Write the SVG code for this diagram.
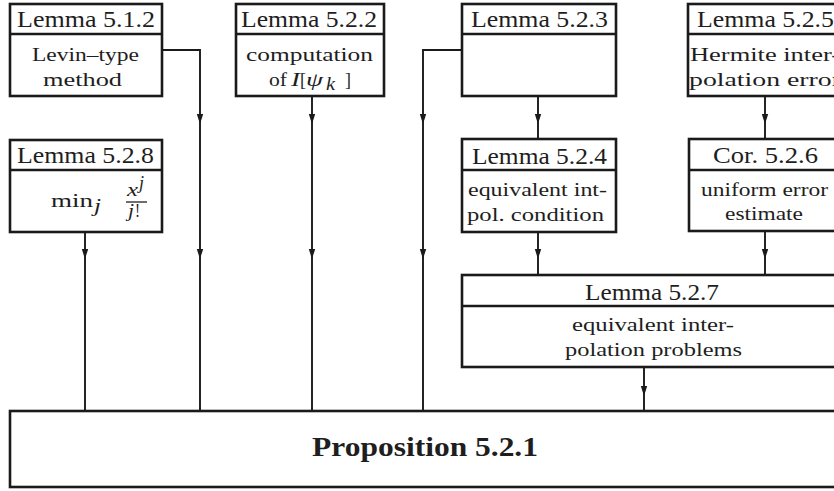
<svg xmlns="http://www.w3.org/2000/svg" xmlns:xlink="http://www.w3.org/1999/xlink" width="834" height="491" viewBox="0 0 834 491">
<style>
.box{fill:#fff;stroke:#1a1a1a;stroke-width:2.6}
.div{stroke:#1a1a1a;stroke-width:2.6}
.con{fill:none;stroke:#1a1a1a;stroke-width:1.9}
.hd{font-family:"Liberation Serif","Times New Roman",serif;font-size:22.5px;fill:#1e1e1e}
.bd{font-family:"Liberation Serif","Times New Roman",serif;font-size:18.5px;fill:#1e1e1e}
.it{font-style:italic}
.pr{font-family:"Liberation Serif","Times New Roman",serif;font-size:27px;font-weight:bold;fill:#1e1e1e}
</style>
<defs>
<path id="ah" d="M-3.2,-10 L3.2,-10 L0,0 Z" fill="#1a1a1a"/>
</defs>
<rect width="834" height="491" fill="#fff"/>

<g id="connectors">
<path class="con" d="M162,50 H200 V411"/>
<path class="con" d="M312,96 V411"/>
<path class="con" d="M462,50 H423 V411"/>
<path class="con" d="M538,96 V139"/>
<path class="con" d="M765,96 V139"/>
<path class="con" d="M85,232 V411"/>
<path class="con" d="M538,232 V275"/>
<path class="con" d="M765,231 V275"/>
<path class="con" d="M644,367 V411"/>
<use xlink:href="#ah" x="200" y="124"/>
<use xlink:href="#ah" x="312" y="124"/>
<use xlink:href="#ah" x="423" y="124"/>
<use xlink:href="#ah" x="538" y="124"/>
<use xlink:href="#ah" x="765" y="124"/>
<use xlink:href="#ah" x="85" y="259"/>
<use xlink:href="#ah" x="200" y="259"/>
<use xlink:href="#ah" x="312" y="259"/>
<use xlink:href="#ah" x="423" y="259"/>
<use xlink:href="#ah" x="538" y="259"/>
<use xlink:href="#ah" x="765" y="259"/>
<use xlink:href="#ah" x="644" y="396"/>
</g>

<g id="lemma512">
<rect class="box" x="10" y="4" width="152" height="92"/>
<line class="div" x1="10" y1="34" x2="162" y2="34"/>
<text class="hd" x="17" y="27" textLength="138" lengthAdjust="spacingAndGlyphs">Lemma 5.1.2</text>
<text class="bd" x="32" y="61" textLength="107" lengthAdjust="spacingAndGlyphs">Levin–type</text>
<text class="bd" x="43" y="86" textLength="79" lengthAdjust="spacingAndGlyphs">method</text>
</g>

<g id="lemma522">
<rect class="box" x="236" y="4" width="148" height="92"/>
<line class="div" x1="236" y1="34" x2="384" y2="34"/>
<text class="hd" x="241" y="27" textLength="136" lengthAdjust="spacingAndGlyphs">Lemma 5.2.2</text>
<text class="bd" x="246" y="61" textLength="127" lengthAdjust="spacingAndGlyphs">computation</text>
<text class="bd" x="269" y="86" textLength="18" lengthAdjust="spacingAndGlyphs">of</text>
<text class="bd it" x="291" y="86" textLength="9" lengthAdjust="spacingAndGlyphs">I</text>
<text class="bd" x="300" y="86" textLength="6" lengthAdjust="spacingAndGlyphs">[</text>
<text class="bd it" x="306" y="86" textLength="17" lengthAdjust="spacingAndGlyphs">ψ</text>
<text class="bd it" x="326" y="90" font-size="14" textLength="9" lengthAdjust="spacingAndGlyphs">k</text>
<text class="bd" x="345" y="86" textLength="6" lengthAdjust="spacingAndGlyphs">]</text>
</g>

<g id="lemma523">
<rect class="box" x="462" y="4" width="154" height="92"/>
<line class="div" x1="462" y1="34" x2="616" y2="34"/>
<text class="hd" x="471" y="27" textLength="137" lengthAdjust="spacingAndGlyphs">Lemma 5.2.3</text>
</g>

<g id="lemma525">
<rect class="box" x="688" y="4" width="154" height="92"/>
<line class="div" x1="688" y1="34" x2="842" y2="34"/>
<text class="hd" x="697" y="27" textLength="137" lengthAdjust="spacingAndGlyphs">Lemma 5.2.5</text>
<text class="bd" x="690" y="61" textLength="150" lengthAdjust="spacingAndGlyphs">Hermite inter-</text>
<text class="bd" x="689" y="86" textLength="152" lengthAdjust="spacingAndGlyphs">polation error</text>
</g>

<g id="lemma528">
<rect class="box" x="10" y="140" width="152" height="92"/>
<line class="div" x1="10" y1="170" x2="162" y2="170"/>
<text class="hd" x="17" y="163" textLength="137" lengthAdjust="spacingAndGlyphs">Lemma 5.2.8</text>
<text class="bd" x="51" y="207" textLength="42" lengthAdjust="spacingAndGlyphs">min</text>
<text class="bd it" x="94" y="212" font-size="13" textLength="7" lengthAdjust="spacingAndGlyphs">j</text>
<line x1="126" y1="202" x2="147" y2="202" stroke="#1e1e1e" stroke-width="1.3"/>
<text class="bd it" x="127" y="196" font-size="15" textLength="11" lengthAdjust="spacingAndGlyphs">x</text>
<text class="bd it" x="139" y="189" font-size="11" textLength="5" lengthAdjust="spacingAndGlyphs">j</text>
<text class="bd it" x="128" y="217" font-size="14" textLength="6" lengthAdjust="spacingAndGlyphs">j</text>
<text class="bd" x="135" y="217" font-size="14" textLength="5" lengthAdjust="spacingAndGlyphs">!</text>
</g>

<g id="lemma524">
<rect class="box" x="462" y="139" width="154" height="93"/>
<line class="div" x1="462" y1="170" x2="616" y2="170"/>
<text class="hd" x="472" y="164" textLength="135" lengthAdjust="spacingAndGlyphs">Lemma 5.2.4</text>
<text class="bd" x="468" y="196" textLength="139" lengthAdjust="spacingAndGlyphs">equivalent int-</text>
<text class="bd" x="467" y="221" textLength="137" lengthAdjust="spacingAndGlyphs">pol. condition</text>
</g>

<g id="cor526">
<rect class="box" x="689" y="139" width="153" height="92"/>
<line class="div" x1="689" y1="170" x2="842" y2="170"/>
<text class="hd" x="713" y="163" textLength="105" lengthAdjust="spacingAndGlyphs">Cor. 5.2.6</text>
<text class="bd" x="701" y="196" textLength="127" lengthAdjust="spacingAndGlyphs">uniform error</text>
<text class="bd" x="725" y="220" textLength="78" lengthAdjust="spacingAndGlyphs">estimate</text>
</g>

<g id="lemma527">
<rect class="box" x="462" y="275" width="380" height="92"/>
<line class="div" x1="462" y1="306" x2="842" y2="306"/>
<text class="hd" x="585" y="300" textLength="134" lengthAdjust="spacingAndGlyphs">Lemma 5.2.7</text>
<text class="bd" x="572" y="331" textLength="162" lengthAdjust="spacingAndGlyphs">equivalent inter-</text>
<text class="bd" x="565" y="356" textLength="177" lengthAdjust="spacingAndGlyphs">polation problems</text>
</g>

<g id="prop521">
<rect class="box" x="10" y="411" width="830" height="76"/>
<text class="pr" x="312" y="456" textLength="226" lengthAdjust="spacingAndGlyphs">Proposition 5.2.1</text>
</g>
</svg>
